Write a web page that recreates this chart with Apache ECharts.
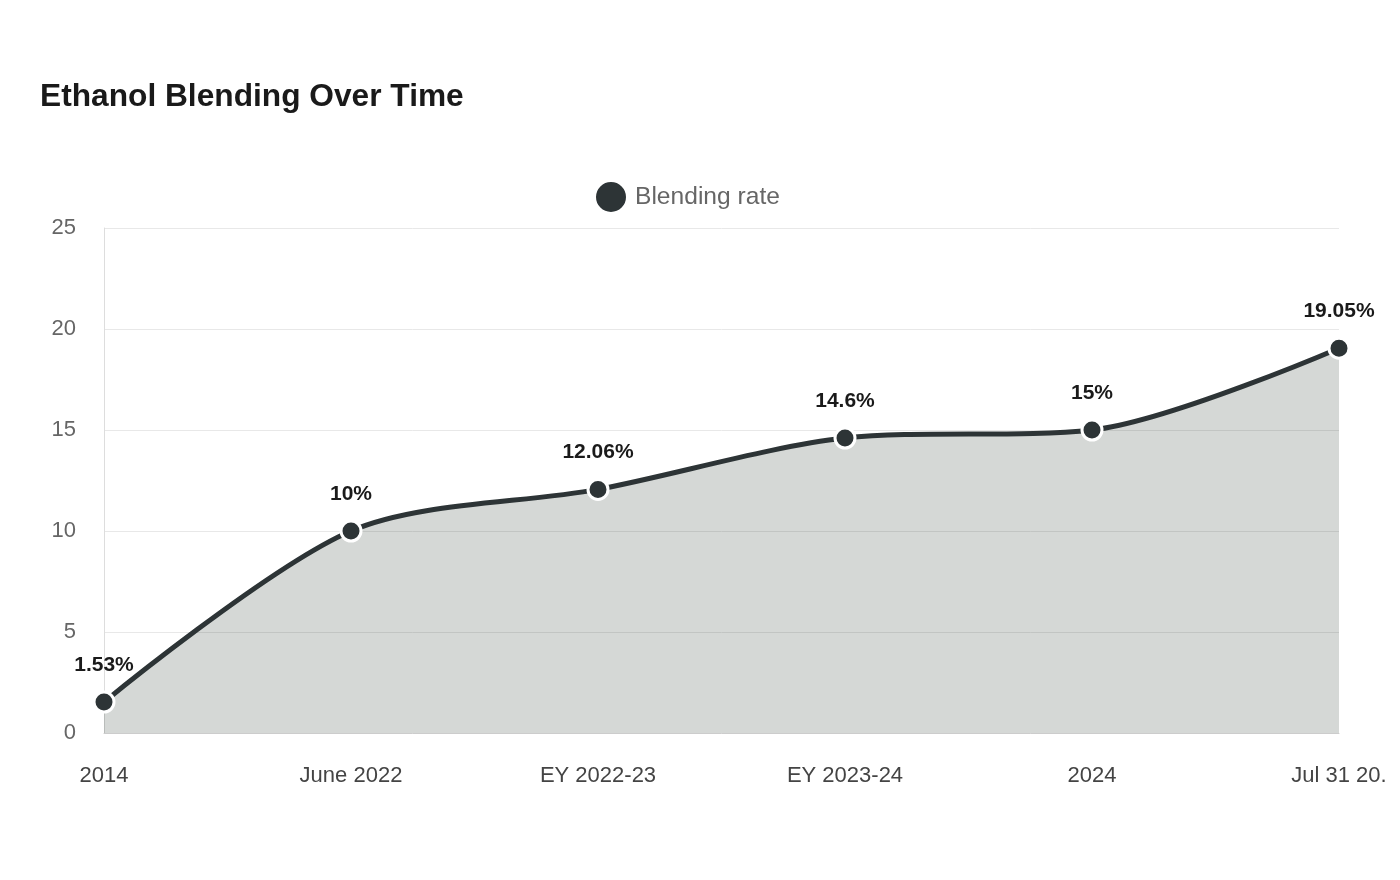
<!DOCTYPE html>
<html>
<head>
<meta charset="utf-8">
<script src="https://cdn.jsdelivr.net/npm/echarts@6/dist/echarts.min.js"></script>
<style>
  html, body { margin: 0; padding: 0; background: #fff; }
  #chart { width: 1400px; height: 880px; }
</style>
</head>
<body>
<div id="chart"></div>
<script>
// data
const periods = ['2014', 'June 2022', 'EY 2022-23', 'EY 2023-24', '2024', 'Jul 31 2025']
const blendingRate = [1.53, 10, 12.06, 14.6, 15, 19.05]
const yTicks = { min: 0, max: 25, interval: 5 }

const lineColor = '#2d3436'
const fontFamily = 'Liberation Sans, Arial, sans-serif'
const axisFont = '22px ' + fontFamily

// last label sits at the canvas edge and gets cut off, like in the original
function edgeLabel(value, index) {
  if (index === periods.length - 1 && echarts.format && echarts.format.truncateText) {
    return echarts.format.truncateText(value, 104, axisFont, '.')
  }
  return value
}

const chart = echarts.init(document.getElementById('chart'))
const option = {
  backgroundColor: '#fff',
  title: {
    text: 'Ethanol Blending Over Time',
    left: 35,
    top: 76,
    textStyle: {
      fontSize: 31.7,
      fontWeight: 'bold',
      color: '#1a1a1a',
      fontFamily: fontFamily
    }
  },
  legend: {
    data: ['Blending rate'],
    left: 589,
    top: 175,
    icon: 'circle',
    itemWidth: 32,
    itemHeight: 32,
    itemGap: 10,
    textStyle: { fontSize: 24.6, color: '#666', fontFamily: fontFamily, padding: [0, 0, 0, 3] }
  },
  grid: {
    left: 104,
    right: 61,
    top: 228,
    bottom: 147,
    containLabel: false
  },
  xAxis: {
    type: 'category',
    data: periods,
    boundaryGap: false,
    axisLine: { show: true, lineStyle: { color: '#ccc' } },
    axisTick: { show: false },
    axisLabel: {
      fontSize: 22,
      color: '#444',
      margin: 32,
      interval: 0,
      fontFamily: fontFamily,
      formatter: edgeLabel
    }
  },
  yAxis: {
    type: 'value',
    min: yTicks.min,
    max: yTicks.max,
    interval: yTicks.interval,
    axisLine: { show: true, lineStyle: { color: '#ddd' } },
    axisTick: { show: false },
    splitLine: { lineStyle: { color: '#e8e8e8' } },
    axisLabel: {
      fontSize: 22,
      color: '#666',
      margin: 28,
      fontFamily: fontFamily
    }
  },
  series: [
    {
      name: 'Blending rate',
      type: 'line',
      data: blendingRate,
      smooth: 0.3,
      symbol: 'circle',
      symbolSize: 20,
      itemStyle: { color: lineColor, borderColor: '#fff', borderWidth: 3 },
      lineStyle: { color: lineColor, width: 5 },
      areaStyle: { color: '#2f3a34', opacity: 0.2 },
      label: {
        show: true,
        position: 'top',
        distance: 15,
        formatter: p => p.value + '%',
        fontSize: 21,
        fontWeight: 'bold',
        color: '#1a1a1a',
        fontFamily: fontFamily
      }
    }
  ]
}
chart.setOption(option)
</script>
</body>
</html>
